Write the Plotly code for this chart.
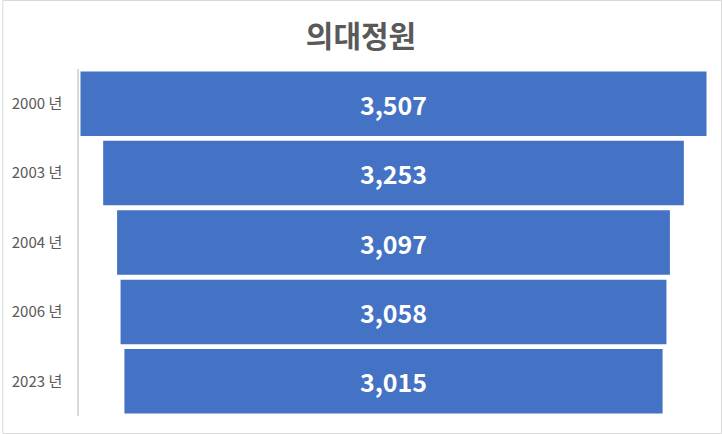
import plotly.graph_objects as go

years = ["2000 년", "2003 년", "2004 년", "2006 년", "2023 년"]
quota = [3507, 3253, 3097, 3058, 3015]
title_text = "의대정원"

W, H = 722, 434
ml, mr, mt, mb = 77, 14, 69, 18
pw = W - ml - mr
ph = H - mt - mb
R = 3507 / 628 * pw / 2

fig = go.Figure(go.Funnel(
    y=years,
    x=quota,
    marker=dict(color="#4472C4", line=dict(width=0)),
    connector=dict(visible=False),
    texttemplate="%{value:,}",
    textposition="inside",
    insidetextanchor="middle",
    textfont=dict(family="Noto Sans CJK KR", size=25, color="white", weight="bold"),
    hoverinfo="skip",
))

fig.update_layout(
    width=W, height=H,
    margin=dict(l=ml, r=mr, t=mt, b=mb),
    paper_bgcolor="white",
    plot_bgcolor="white",
    title=dict(text="<b>" + title_text + "</b>", x=0.5, xref="container", xanchor="center",
               y=1 - 36 / H, yanchor="middle", yref="container",
               font=dict(family="Noto Sans CJK KR", size=30, color="#595959")),
    funnelgap=0.07,
    showlegend=False,
    xaxis=dict(range=[-R, R], visible=False, fixedrange=True),
    yaxis=dict(showline=True, linecolor="#D9D9D9", linewidth=1.5, showgrid=False,
               ticks="outside", ticklen=12, tickcolor="rgba(0,0,0,0)",
               tickfont=dict(family="Noto Sans CJK KR", size=15, color="#595959"),
               autorange="reversed", fixedrange=True),
    shapes=[dict(type="rect", xref="paper", yref="paper",
                 x0=-(ml - 0.5) / pw, x1=1 + (mr - 0.5) / pw,
                 y0=-(mb - 0.5) / ph, y1=1 + (mt - 0.5) / ph,
                 line=dict(color="#D9D9D9", width=1), layer="below")],
)

fig.write_html("out.html", config={"displayModeBar": False},
               post_script="document.body.style.margin='0';document.body.style.overflow='hidden';")
